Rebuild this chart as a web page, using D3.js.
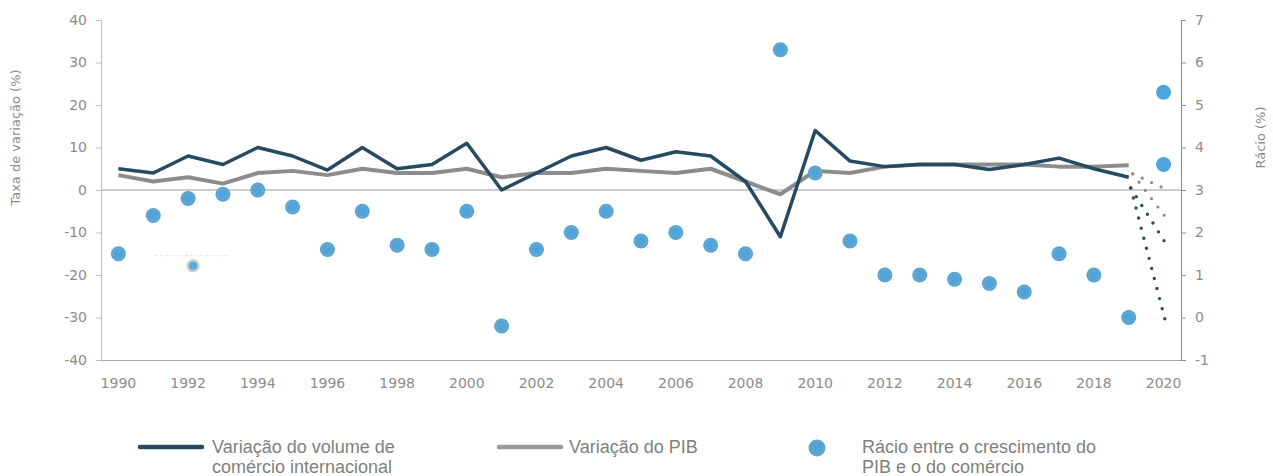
<!DOCTYPE html>
<html>
<head>
<meta charset="utf-8">
<script src="https://cdn.jsdelivr.net/npm/d3@7.9.0/dist/d3.min.js"></script>
<style>
  body { margin: 0; background: #fff; }
  svg { display: block; }
  .tick text { font-family: "DejaVu Sans", sans-serif; font-size: 14px; fill: #8c8c8c; }
  .legend text { font-family: "Liberation Sans", sans-serif; font-size: 18px; fill: #7f7f7f; }
</style>
</head>
<body>
<svg id="chart" width="1273" height="476"></svg>
<script>
// years on the category axis
const years = d3.range(1990, 2021);
const yearLabels = years.filter(y => y % 2 === 0);

// Variação do volume de comércio internacional (%), 1990-2019
const tradeVol = [5, 4, 8, 6, 10, 8, 4.7, 10, 5, 6, 11, 0, 4, 8, 10, 7, 9, 8, 2, -11,
                  14, 6.8, 5.5, 6, 6, 4.8, 6, 7.5, 5, 3];
// Variação do PIB (%), 1990-2019
const gdpVol = [3.5, 2, 3, 1.5, 4, 4.5, 3.5, 5, 4, 4, 5, 3, 4, 4, 5, 4.5, 4, 5, 2, -1,
                4.5, 4, 5.5, 6, 6, 6, 6, 5.5, 5.5, 5.8];
// Rácio entre o crescimento do PIB e o do comércio, 1990-2019
const ratio = [1.5, 2.4, 2.8, 2.9, 3.0, 2.6, 1.6, 2.5, 1.7, 1.6, 2.5, -0.2, 1.6, 2.0, 2.5, 1.8, 2.0, 1.7, 1.5, 6.3,
               3.4, 1.8, 1.0, 1.0, 0.9, 0.8, 0.6, 1.5, 1.0, 0.0];
// 2020 scenarios
const ratio2020 = [5.3, 3.6];
const tradeStart2019 = 0.5;
const tradeScen2020 = [-12.5, -31];
const gdpStart2019 = 3.8;
const gdpScen2020 = [0, -7];
// stray marker left in the source picture
const strayYear = 1992, strayRatio = 1.22;

const svg = d3.select("#chart");
const mLeft = 101, mRight = 1181, mTop = 20, mBottom = 360;

const x = d3.scaleBand().domain(years).range([mLeft, mRight]).paddingInner(0).paddingOuter(0);
const cx = yr => x(yr) + x.bandwidth() / 2;
const y = d3.scaleLinear().domain([-40, 40]).range([mBottom, mTop]);
const y2 = d3.scaleLinear().domain([-1, 7]).range([mBottom, mTop]);
const fmt = d => String(d);

// zero line
svg.append("line")
  .attr("x1", mLeft).attr("x2", mRight)
  .attr("y1", y(0)).attr("y2", y(0))
  .attr("stroke", "#9a9a9a").attr("stroke-width", 1);

// left axis
const gl = svg.append("g").attr("transform", `translate(${mLeft},0)`)
  .call(d3.axisLeft(y).tickValues(d3.range(-40, 41, 10)).tickFormat(fmt).tickSize(5).tickPadding(9).tickSizeOuter(0));
gl.select(".domain").attr("stroke", "#bfbfbf");
gl.selectAll(".tick line").attr("stroke", "#bfbfbf");

// right axis
const gr = svg.append("g").attr("transform", `translate(${mRight},0)`)
  .call(d3.axisRight(y2).tickValues(d3.range(-1, 8, 1)).tickFormat(fmt).tickSize(5).tickPadding(9).tickSizeOuter(0));
gr.select(".domain").attr("stroke", "#8c8c8c");
gr.selectAll(".tick line").attr("stroke", "#8c8c8c");

// bottom axis
const gb = svg.append("g").attr("transform", `translate(0,${mBottom})`)
  .call(d3.axisBottom(x).tickValues(yearLabels).tickSize(0).tickPadding(18).tickSizeOuter(0));
gb.select(".domain").attr("stroke", "#a6a6a6");

// axis titles
svg.append("text")
  .attr("transform", `translate(20,${(mTop + 255) / 2}) rotate(-90)`)
  .attr("text-anchor", "middle")
  .style("font-family", "DejaVu Sans, sans-serif").style("font-size", "13px").style("fill", "#8a8a8a")
  .text("Taxa de variação (%)");
svg.append("text")
  .attr("transform", `translate(1265,${(mTop + 255) / 2}) rotate(-90)`)
  .attr("text-anchor", "middle")
  .style("font-family", "DejaVu Sans, sans-serif").style("font-size", "13px").style("fill", "#8a8a8a")
  .text("Rácio (%)");

const histYears = years.slice(0, tradeVol.length);
const line = d3.line().x(d => cx(d[0])).y(d => y(d[1]));

// GDP line
svg.append("path")
  .datum(histYears.map((yr, i) => [yr, gdpVol[i]]))
  .attr("fill", "none").attr("stroke", "#8c8c8c").attr("stroke-width", 4)
  .attr("stroke-linejoin", "round")
  .attr("d", line);

// trade line
svg.append("path")
  .datum(histYears.map((yr, i) => [yr, tradeVol[i]]))
  .attr("fill", "none").attr("stroke", "#264a60").attr("stroke-width", 3.5)
  .attr("stroke-linejoin", "round")
  .attr("d", line);

// projections (dotted)
gdpScen2020.forEach(v => {
  svg.append("path")
    .datum([[2019, gdpStart2019], [2020, v]])
    .attr("fill", "none").attr("stroke", "#8c8c8c").attr("stroke-width", 3.2)
    .attr("stroke-linecap", "round").attr("stroke-dasharray", "0,10.4")
    .attr("transform", "translate(4,0)")
    .attr("d", line);
});
tradeScen2020.forEach(v => {
  svg.append("path")
    .datum([[2019, tradeStart2019], [2020, v]])
    .attr("fill", "none").attr("stroke", "#264a60").attr("stroke-width", 3.4)
    .attr("stroke-linecap", "round").attr("stroke-dasharray", "0,10.4")
    .attr("transform", "translate(2,0)")
    .attr("d", line);
});

// ratio points
const pts = svg.append("g");
histYears.forEach((yr, i) => {
  pts.append("circle")
    .attr("cx", cx(yr)).attr("cy", y2(ratio[i]))
    .attr("r", 7.5).attr("fill", "#4ea5dc");
  pts.append("circle")
    .attr("cx", cx(yr)).attr("cy", y2(ratio[i]))
    .attr("r", 5.5).attr("fill", "none")
    .attr("stroke", "#8aa3b3").attr("stroke-width", 1);
});
svg.append("g").selectAll("circle")
  .data(ratio2020)
  .join("circle")
  .attr("cx", cx(2020)).attr("cy", d => y2(d))
  .attr("r", 7.5)
  .attr("fill", "#4ea5dc");

// stray marker
svg.append("line")
  .attr("x1", cx(strayYear) - 33).attr("x2", cx(strayYear) + 42)
  .attr("y1", y2(strayRatio) - 10).attr("y2", y2(strayRatio) - 10)
  .attr("stroke", "#e6e6e6").attr("stroke-dasharray", "3,2");
svg.append("circle")
  .attr("cx", cx(strayYear) + 5).attr("cy", y2(strayRatio))
  .attr("r", 6.5).attr("fill", "#c8c8c8");
svg.append("circle")
  .attr("cx", cx(strayYear) + 5).attr("cy", y2(strayRatio))
  .attr("r", 4).attr("fill", "#5aaae0");

// legend
const lg = svg.append("g").attr("class", "legend");
lg.append("line").attr("x1", 140).attr("x2", 202).attr("y1", 447).attr("y2", 447)
  .attr("stroke", "#264a60").attr("stroke-width", 4.5).attr("stroke-linecap", "round");
lg.append("text").attr("x", 212).attr("y", 453).text("Variação do volume de");
lg.append("text").attr("x", 212).attr("y", 473).text("comércio internacional");

lg.append("line").attr("x1", 499).attr("x2", 561).attr("y1", 447).attr("y2", 447)
  .attr("stroke", "#9a9a9a").attr("stroke-width", 4.5).attr("stroke-linecap", "round");
lg.append("text").attr("x", 569).attr("y", 453).text("Variação do PIB");

lg.append("circle").attr("cx", 817).attr("cy", 448).attr("r", 8.5).attr("fill", "#4ea5dc");
lg.append("circle").attr("cx", 817).attr("cy", 448).attr("r", 6.5)
  .attr("fill", "none").attr("stroke", "#7f9db1").attr("stroke-width", 1.2);
lg.append("text").attr("x", 862).attr("y", 453).text("Rácio entre o crescimento do");
lg.append("text").attr("x", 862).attr("y", 473).text("PIB e o do comércio");
</script>
</body>
</html>
